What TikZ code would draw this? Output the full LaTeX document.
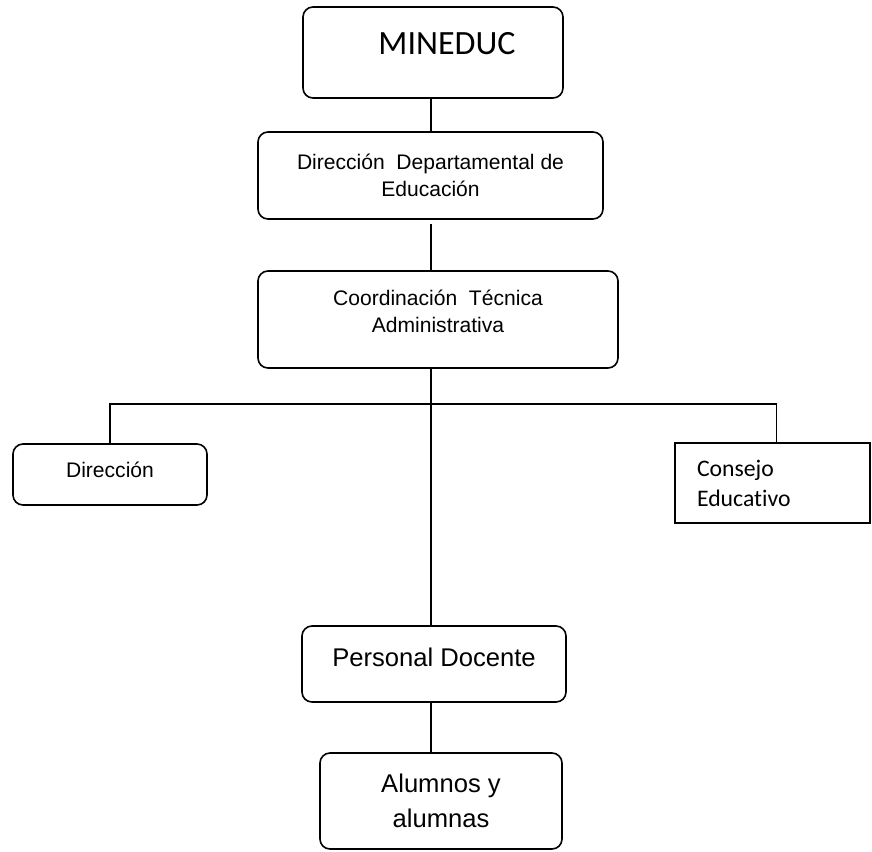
\documentclass[tikz,border=0pt]{standalone}
\usepackage{fontspec}
\setmainfont{Liberation Sans}
\newfontfamily\calibri[Ligatures=NoCommon]{Carlito}
\usetikzlibrary{calc}

\tikzset{
  orgbox/.style={draw, line width=1.2pt, rounded corners=7.5pt, align=center, inner sep=0pt},
  flatbox/.style={draw, line width=1.2pt, inner sep=0pt},
  link/.style={line width=1.2pt},
}

\begin{document}
\begin{tikzpicture}[x=0.75pt, y=-0.75pt]
  \useasboundingbox (0,0) rectangle (872,851);
  % boxes, placed at pixel positions of the chart
  \node[orgbox, minimum width=195pt, minimum height=68.25pt, text depth=14pt,
        font=\calibri\fontsize{25.5}{30}\selectfont] (mineduc) at (433,52.5) {\hspace*{21pt}MINEDUC};
  \node[orgbox, minimum width=258.75pt, minimum height=65.25pt,
        font=\fontsize{15.8}{20.6}\selectfont] (dd) at (430.5,175.5) {Dirección~ Departamental de\\Educación};
  \node[orgbox, minimum width=270pt, minimum height=72.75pt, text depth=12pt,
        font=\fontsize{15.8}{20.6}\selectfont] (coord) at (438,319.5) {Coordinación~ Técnica\\Administrativa};
  \node[orgbox, minimum width=145.5pt, minimum height=45.75pt, text depth=6.75pt,
        font=\fontsize{15.8}{20.6}\selectfont] (direccion) at (110,474.5) {Dirección};
  \node[flatbox, minimum height=60pt, text width=113.25pt, inner xsep=16.5pt, align=left,
        font=\calibri\fontsize{17.8}{22.5}\selectfont] (consejo) at (772.5,483) {Consejo\\Educativo};
  \node[orgbox, minimum width=198pt, minimum height=57pt, text depth=10.5pt,
        font=\fontsize{19.2}{26.3}\selectfont] (docente) at (434,664) {Personal Docente};
  \node[orgbox, minimum width=181.5pt, minimum height=72pt,
        font=\fontsize{19.2}{26.3}\selectfont] (alumnos) at (441,801) {Alumnos y\\alumnas};

  % connectors
  \coordinate (trunk) at (431,404);
  \draw[link] (mineduc.south -| trunk) -- (dd.north -| trunk);
  \draw[link, shorten <=3pt] (dd.south -| trunk) -- (coord.north -| trunk);
  \draw[link] (coord.south -| trunk) -- (docente.north -| trunk);
  \draw[link] (direccion.north) |- (trunk) -| ([xshift=3pt]consejo.north);
  \draw[link] (docente.south -| trunk) -- (alumnos.north -| trunk);
\end{tikzpicture}
\end{document}
